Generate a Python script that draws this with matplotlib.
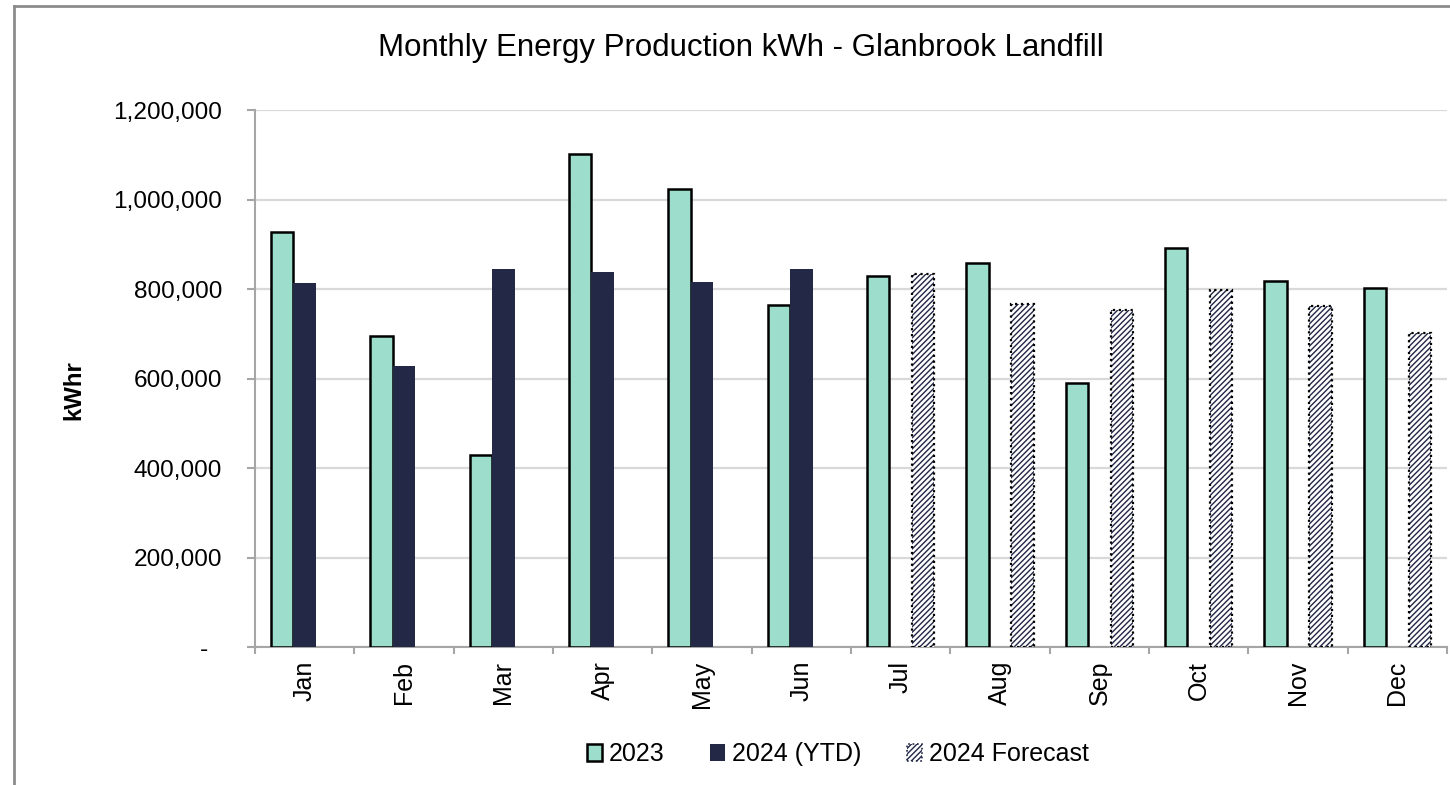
import numpy as np
import matplotlib
matplotlib.use("Agg")
import matplotlib.pyplot as plt
from matplotlib.patches import Patch
from matplotlib.lines import Line2D
from matplotlib.ticker import FuncFormatter

months = ["Jan", "Feb", "Mar", "Apr", "May", "Jun",
          "Jul", "Aug", "Sep", "Oct", "Nov", "Dec"]
prod_2023 = [927000, 696000, 428000, 1102000, 1023000, 765000,
             828000, 858000, 591000, 892000, 817000, 803000]
prod_2024_ytd = [813000, 627000, 844000, 839000, 815000, 844000,
                 np.nan, np.nan, np.nan, np.nan, np.nan, np.nan]
forecast_2024 = [np.nan, np.nan, np.nan, np.nan, np.nan, np.nan,
                 834000, 766000, 752000, 798000, 763000, 702000]
series_names = ["2023", "2024 (YTD)", "2024 Forecast"]

MINT = "#9cdecb"
NAVY = "#222845"
GREY = "#a6a6a6"

plt.rcParams['font.family'] = ['Liberation Sans', 'DejaVu Sans']
plt.rcParams['hatch.color'] = NAVY
plt.rcParams['hatch.linewidth'] = 1.0

fig = plt.figure(figsize=(14.5, 7.85), dpi=100)
ax = fig.add_axes([255/1450, 1 - 647/785, (1447 - 255)/1450, (647 - 110)/785])

x = np.arange(len(months))
w = 0.227

ax.bar(x - w, prod_2023, w, color=MINT, edgecolor="black", linewidth=1.8, zorder=3)
ax.bar(x, prod_2024_ytd, w, color=NAVY, linewidth=0, zorder=3)
# forecast: hatched fill plus dotted outline
ax.bar(x + w, forecast_2024, w, color="white", edgecolor=NAVY, hatch="//////",
       linewidth=0, zorder=3)
ax.bar(x + w, forecast_2024, w, fill=False, edgecolor="black", linestyle=":",
       linewidth=1.6, zorder=4)

ax.set_xlim(-0.5, len(months) - 0.5)
ax.set_ylim(0, 1200000)
ax.set_yticks(np.arange(0, 1200001, 200000))
ax.yaxis.set_major_formatter(FuncFormatter(lambda v, p: f"{v:,.0f}" if v else "-  "))
ax.grid(axis="y", color="#d9d9d9", linewidth=1.6, zorder=0)

ax.set_xticks(x)
ax.set_xticklabels(months, rotation=90, va="top", ha="center")
ax.set_xticks(np.arange(-0.5, len(months), 1), minor=True)
ax.tick_params(axis="x", which="major", length=0, pad=10, labelsize=18)
ax.tick_params(axis="x", which="minor", length=5, width=1.5, color=GREY)
ax.tick_params(axis="y", length=5.8, width=1.5, color=GREY, pad=18, labelsize=17.6)

for s in ["top", "right"]:
    ax.spines[s].set_visible(False)
for s in ["left", "bottom"]:
    ax.spines[s].set_color(GREY)
    ax.spines[s].set_linewidth(1.5)

fig.text(741/1450, 1 - 48/785, "Monthly Energy Production kWh - Glanbrook Landfill",
         ha="center", va="center", fontsize=22.5)
fig.text(74/1450, 1 - 390/785, "kWhr", rotation=90, ha="center", va="center",
         fontsize=17.3, fontweight="bold")

handles = [
    Patch(facecolor=MINT, edgecolor="black", linewidth=1.8),
    Patch(facecolor=NAVY, linewidth=0),
    Patch(facecolor="white", edgecolor=NAVY, hatch="//////", linestyle=":", linewidth=1.2),
]
fig.legend(handles, series_names, loc="center", bbox_to_anchor=(838/1450, 1 - 754/785),
           ncol=3, frameon=False, fontsize=18, handlelength=0.6, handleheight=0.65,
           handletextpad=0.3, columnspacing=1.8)

# outer chart frame (left and top edges visible)
fig.add_artist(Line2D([14/1450, 14/1450], [0, 1 - 6/785], color="#8c8c8c",
                      linewidth=2, transform=fig.transFigure))
fig.add_artist(Line2D([14/1450, 1], [1 - 6/785, 1 - 6/785], color="#8c8c8c",
                      linewidth=2, transform=fig.transFigure))

fig.savefig("out.png", dpi=100)
